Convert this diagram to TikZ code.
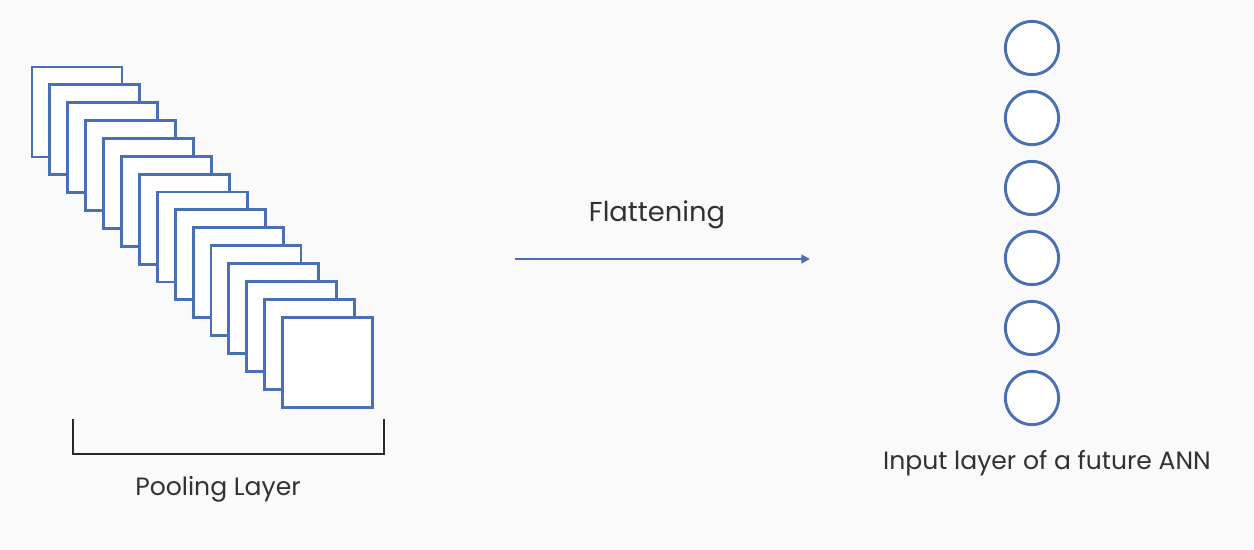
\documentclass[tikz,border=0pt]{standalone}
\usepackage{fontspec}
\setmainfont{Poppins}
\usetikzlibrary{arrows.meta}
\tikzset{every picture/.style={line width=0.75pt}}
\definecolor{layerblue}{RGB}{72,112,178}
\definecolor{labelgrey}{RGB}{50,50,50}
\tikzset{
  mapsq/.style={color=layerblue, line width=2.2pt, fill=white},
  neuron/.style={circle, draw=layerblue, line width=2.2pt, fill=white, minimum size=40pt, inner sep=0pt},
  caption/.style={inner sep=0.75pt, color=labelgrey, font=\fontsize{18.8}{22}\selectfont}
}

\begin{document}
\begin{tikzpicture}[x=0.75pt,y=0.75pt,yscale=-1,xscale=1]
%set diagram left start at 0, and has height of 550
\path [fill={rgb, 255:red, 250; green, 250; blue, 250 }] (0,0) rectangle (1254,550);

%Shape: Square stack (pooled feature maps)
\foreach \i in {0,...,14}
  \draw [mapsq] ({32+17.9*\i},{67+17.86*\i}) rectangle ++(90,90);

%Shape: Bracket
\draw [color={rgb, 255:red, 40; green, 40; blue, 40 }, line width=1.5pt] (73,419) -- (73,454) -- (384,454) -- (384,419);

%Shape: Circles (input layer)
\foreach \k in {1,...,6}
  \node [neuron] (n\k) at (1032,{-22+70*\k}) {};

%Straight Lines
\coordinate (flatL) at (515,259);
\coordinate (flatR) at (810,259);
\draw [color=layerblue, line width=1.6pt, -{Triangle[length=6.5pt,width=6.5pt]}] (flatL) -- (flatR);

% Text Node
\node [caption, font=\fontsize{20.5}{24}\selectfont] (flat) at (657,215) {Flattening};
% Text Node
\node [caption] (pool) at (218,489) {Pooling Layer};
% Text Node
\node [caption] (inlayer) at (1047,463) {Input layer of a future ANN};

\end{tikzpicture}
\end{document}
